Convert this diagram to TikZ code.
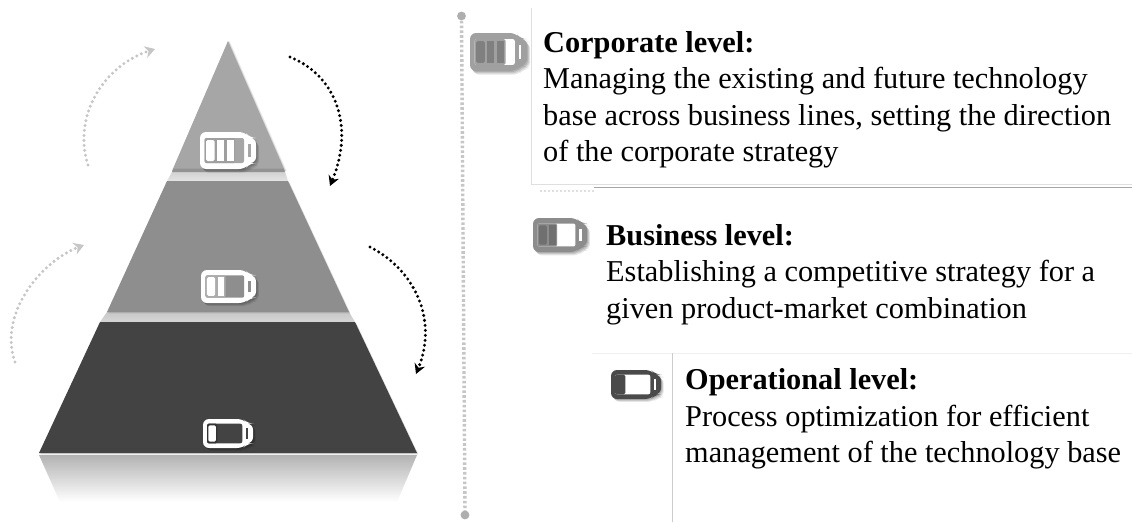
\documentclass[tikz,border=0pt]{standalone}
\usepackage{fontspec}
\setmainfont{Liberation Serif}
\usetikzlibrary{arrows.meta}
\definecolor{tierA}{HTML}{A6A6A6}
\definecolor{tierB}{HTML}{8E8E8E}
\definecolor{tierC}{HTML}{434343}
\definecolor{bandA}{HTML}{D2D2D2}
\definecolor{bandB}{HTML}{C8C8C8}
\definecolor{dotlight}{HTML}{C6C6C6}
\definecolor{iconA}{HTML}{A0A0A0}
\definecolor{iconB}{HTML}{8C8C8C}
\definecolor{iconC}{HTML}{4A4A4A}
\tikzset{
  bodytext/.style={anchor=north west,inner sep=0pt,align=left,font=\fontsize{30.3}{36.4}\selectfont},
  cycledark/.style={draw=black,line width=3.3pt,line cap=round,dash pattern=on 0pt off 5pt,-{Stealth[length=10pt,width=11pt,fill=black]}},
  cyclelight/.style={draw=dotlight,line width=3.3pt,line cap=round,dash pattern=on 0pt off 5pt,-{Stealth[length=10pt,width=12pt,fill=dotlight]}},
  frameline/.style={draw=#1,line width=0.9pt},
  soft/.style={fill=gray,opacity=0.16,draw=none},
}
\newcommand{\battshape}{(0,0) -- (45,0) -- (50,6) -- (56,6) -- (56,31) -- (50,31) -- (45,37) -- (0,37) -- cycle}
% x, y, w, h, outline, window, cell edge, cell, number of cells
\newcommand{\batt}[9]{%
  \begin{scope}[shift={(#1,#2)},xscale=#3/56,yscale=#4/37]
    \fill[black,opacity=0.12,rounded corners=6pt,shift={(1,1.2)}] \battshape;
    \fill[black,opacity=0.12,rounded corners=6pt,shift={(2,2.4)}] \battshape;
    \fill[black,opacity=0.10,rounded corners=6pt,shift={(3,3.6)}] \battshape;
    \fill[#5,rounded corners=6pt] \battshape;
    \fill[#6,rounded corners=2pt] (4.5,6) rectangle (44,31);
    \fill[#6] (48,12) rectangle (50.5,25);
    \ifnum#9=1 \fill[#7,rounded corners=1.5pt] (4.5,6) rectangle (16,31);\fi
    \ifnum#9=2 \fill[#7,rounded corners=1.5pt] (4.5,6) rectangle (25,31);\fi
    \ifnum#9=3 \fill[#7,rounded corners=1.5pt] (4.5,6) rectangle (35,31);\fi
    \ifnum#9>0 \fill[#8,rounded corners=1.5pt] (6,8) rectangle (14.5,29);\fi
    \ifnum#9>1 \fill[#8] (17,8) rectangle (23.5,29);\fi
    \ifnum#9>2 \fill[#8] (26.5,8) rectangle (33.5,29);\fi
  \end{scope}}
\begin{document}
\begin{tikzpicture}[x=1pt,y=-1pt]
\useasboundingbox (0,0) rectangle (1132,522);
\fill[white] (0,0) rectangle (1132,522);

% pyramid
\shade[top color=bandA,bottom color=bandA!60] (172,172) -- (285,172) -- (288,181) -- (167,181) -- cycle;
\shade[top color=bandB,bottom color=bandB!75] (107,312) -- (349,312) -- (355,322) -- (100,322) -- cycle;
\shade[top color=gray!60,bottom color=white] (39,455) -- (417,455) -- (397,502) -- (60,502) -- cycle;

\foreach \d in {0.8,1.6}{
\fill[soft,shift={(\d,0)}] (228,41) -- (285,171) -- (172,171) -- cycle;
\fill[soft,shift={(\d,\d)}] (167,181) -- (288,181) -- (349,312) -- (107,312) -- cycle;
\fill[soft,shift={(\d,\d)}] (100,322) -- (355,322) -- (417,453) -- (39,453) -- cycle;
}

\fill[tierA] (228,41) -- (285,171) -- (172,171) -- cycle;
\fill[gray!85] (173.5,168.5) -- (283.5,168.5) -- (285,172) -- (172,172) -- cycle;
\fill[tierB] (167,181) -- (288,181) -- (349,312) -- (107,312) -- cycle;
\fill[tierC] (100,322) -- (355,322) -- (417,453) -- (39,453) -- cycle;

\batt{200}{132}{56}{37}{white}{tierA}{gray!75}{white}{3}
\batt{201}{270}{55}{33}{white}{tierB}{gray!65}{white}{2}
\batt{203}{419}{50}{29}{white}{tierC}{black!80}{white}{1}

% cycle arrows
\coordinate (la1) at (88,165);
\coordinate (la2) at (155,49);
\coordinate (da1) at (290,57);
\coordinate (da2) at (330,186);
\coordinate (lb1) at (15,362);
\coordinate (lb2) at (84,245);
\coordinate (db1) at (370,247);
\coordinate (db2) at (416,374);
\draw[cyclelight] (la1) .. controls (72,115) and (105,65) .. (la2);
\draw[cycledark] (da1) .. controls (335,75) and (355,125) .. (da2);
\draw[cyclelight] (lb1) .. controls (-2,315) and (40,262) .. (lb2);
\draw[cycledark] (db1) .. controls (415,270) and (438,320) .. (db2);

% timeline
\coordinate (ta) at (461.5,16);
\coordinate (tb) at (465,515);
\draw[dotlight,line width=3.4pt,dash pattern=on 2.6pt off 2.2pt] (ta) -- (tb);
\fill[iconA!85] (ta) circle (4.4);
\fill[iconA!85] (tb) circle (4.4);

% panel frames
\coordinate (f1) at (531.5,8);
\coordinate (f2) at (531.5,184);
\coordinate (f3) at (1132,184);
\coordinate (f4) at (594,187);
\coordinate (f5) at (1132,187);
\coordinate (f6) at (540,191);
\coordinate (f7) at (594,191);
\coordinate (f8) at (592,353);
\coordinate (f9) at (1132,353);
\coordinate (f10) at (672,353);
\coordinate (f11) at (672,522);
\draw[frameline=gray!25] (f1) -- (f2) -- (f3);
\draw[frameline=gray!70] (f4) -- (f5);
\draw[gray!25,line width=1.2pt,dash pattern=on 2pt off 2pt] (f6) -- (f7);
\draw[frameline=gray!12] (f8) -- (f9);
\draw[frameline=gray!40] (f10) -- (f11);

% level icons
\batt{470}{33}{57}{38}{iconA}{white}{iconA}{iconA!80!black}{3}
\batt{533}{218}{54}{34}{iconB}{white}{iconB}{iconB!80!black}{2}
\batt{611}{370}{50}{29}{iconC}{white}{iconC}{iconC}{1}

% text
\node[bodytext] (corp) at (543,31) {\textbf{Corporate level:}\\Managing the existing and future technology\\base across business lines, setting the direction\\of the corporate strategy};
\node[bodytext] (bus) at (606,224) {\textbf{Business level:}\\Establishing a competitive strategy for a\\given product-market combination};
\node[bodytext] (op) at (685,368.5) {\textbf{Operational level:}\\Process optimization for efficient\\management of the technology base};
\end{tikzpicture}
\end{document}
